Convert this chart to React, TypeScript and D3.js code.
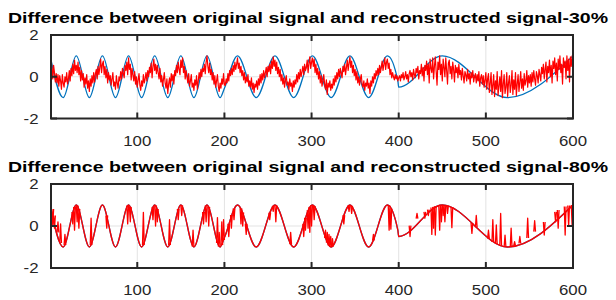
import React from "react";
import * as d3 from "d3";

const W = 616;
const H = 300;
const LEFT = 51;
const RIGHT = 573;

// original signal: peaks, troughs and segment joins
const origX = [0, 15, 30, 45, 60, 75, 90, 105, 120, 135, 150, 165, 180, 195, 200,
  215, 236.5, 258, 279.5, 301, 322.5, 344, 365.5, 387, 399, 400, 450, 525, 600];
const origY = [1, -1, 1, -1, 1, -1, 1, -1, 1, -1, 1, -1, 1, -1, -0.55,
  1, -1, 1, -1, 1, -1, 1, -1, 1, -0.2, -0.5, 1, -1, 1];

// 30% reconstruction, one value per sample (x = 1..600)
const red30 = [
  0.9, 0.4, -0.1, 0.55, 0.2, -0.25, 0.15, -0.3, 0.1, -0.45, 0.05, -0.2, -0.6, 0.1, -0.3, -0.5, 0, -0.25, 0.2, -0.35, -0.1, 0.3, -0.2, 0.4, 0.05, 0.6, 0.15, 0.8, 0.3, 0.55,
  0.2, 0.7, 0.1, 0.45, -0.2, 0.3, -0.15, 0.15, -0.5, -0.05, -0.35, 0.1, -0.55, -0.2, -0.7, -0.1, -0.45, 0.05, -0.3, 0.2, -0.25, 0.15, 0.35, -0.1, 0.5, 0.1, 0.45, 0.85, 0.2, 0.6,
  0.75, 0.1, 0.5, -0.05, 0.35, -0.3, 0.2, -0.15, 0.05, -0.4, -0.1, 0.2, -0.45, -0.25, -0.6, 0.05, -0.3, -0.55, 0, -0.2, 0.25, -0.1, 0.4, 0.15, -0.05, 0.55, 0.3, 0.7, 0.1, 0.9,
  0.35, 0.6, -0.15, 0.4, 0.1, -0.2, 0.25, -0.35, 0, -0.5, -0.15, 0.15, -0.4, -0.65, -0.2, -0.45, 0.1, -0.3, -0.1, 0.2, -0.2, 0.3, 0, 0.45, 0.2, 0.65, -0.05, 0.5, 0.85, 0.3,
  0.6, 0.15, 0.55, 0.2, -0.1, 0.4, -0.25, 0.05, -0.45, -0.15, 0.2, -0.3, -0.55, -0.1, -0.8, -0.35, -0.05, -0.5, 0.15, -0.2, 0.1, -0.35, 0.3, 0.05, 0.55, 0.2, 0.7, 0.35, 0.1, 0.8,
  0.45, 0.9, 0.2, 0.5, -0.1, 0.3, 0, -0.3, 0.15, -0.45, -0.2, 0.1, -0.5, -0.3, -0.65, -0.15, -0.4, 0.05, -0.6, -0.2, 0.2, -0.1, 0.35, 0, 0.4, 0.25, 0.6, 0.15, 0.7, 1.0,
  0.5, 0.2, 0.65, 0.1, 0.35, -0.15, 0.2, -0.35, 0.05, -0.5, -0.2, 0.1, -0.45, -0.7, -0.3, -0.55, -0.1, -0.35, 0.15, -0.4,
  -0.4, -0.1, -0.3, 0.15, -0.2, 0.3, 0.05, 0.4, 0.1, 0.55, 0.25, 0.7, 0.35, 0.6,
  0.9, 0.4, 0.65, 0.2, 0.5, 0.05, 0.3, -0.15, 0.2, -0.3, 0, -0.25, 0.1, -0.45, -0.2, -0.5, -0.05, -0.6, -0.3, -0.75, -0.35, -0.5,
  -0.2, -0.6, -0.1, -0.4, 0.1, -0.3, 0.15, -0.15, 0.3, -0.05, 0.2, 0.45, 0, 0.5, 0.25, 0.6, 0.15, 0.75, 0.4, 0.95, 0.5, 0.8,
  0.3, 0.7, 0.15, 0.45, 0, 0.35, -0.2, 0.1, -0.35, -0.05, -0.5, -0.15, 0.05, -0.4, -0.25, -0.6, -0.1, -0.45, -0.3, -0.7, -0.2,
  -0.5, -0.15, -0.35, 0.1, -0.25, 0.2, -0.1, 0.35, 0, 0.25, 0.5, 0.1, 0.6, 0.3, 0.45, 0.8, 0.2, 0.65, 0.95, 0.4, 0.7, 0.9,
  0.5, 0.85, 0.2, 0.6, 0.1, 0.4, -0.1, 0.25, -0.3, 0.05, -0.45, -0.2, 0.1, -0.35, -0.6, -0.15, -0.85, -0.3, -0.5, -0.2, -0.65,
  -0.35, -0.55, -0.1, -0.4, 0.05, -0.25, 0.2, -0.1, 0.35, 0, 0.4, 0.15, -0.05, 0.5, 0.25, 0.6, 0.1, 0.45, 0.8, 0.3, 0.65, 0.95,
  0.45, 0.75, 0.2, 0.55, 0.05, 0.35, -0.15, 0.25, -0.3, 0, -0.4, -0.1, 0.1, -0.35, -0.5, -0.2, -0.65, -0.3, -0.45, -0.1, -0.55,
  -0.3, -0.8, -0.2, -0.45, 0, -0.3, 0.15, -0.1, 0.3, 0.05, 0.4, 0.1, 0.55, 0.2, 0.45, 0.75, 0.3, 0.6, 0.9, 0.35, 0.7, 0.85,
  0.4, 0.65, 0.1, 0.35, -0.05, 0.2, 0, -0.15, 0.1, -0.1, 0.05, -0.2, -0.05,
  0.05, -0.2, 0.1, -0.05, 0.2, -0.15, 0, 0.25, -0.1, 0.1, -0.25, 0.15, 0.3, 0, 0.2, -0.15, 0.35, 0.1, -0.05, 0.4, 0.2, 0.5, -0.1, 0.3, 0.15, 0.6, 0.05, 0.45, -0.2, 0.55,
  0.3, 0.75, 0.1, 0.6, -0.3, 0.85, 0.4, 0.2, 0.9, -0.1, 0.5, 0.95, 0.25, -0.4, 0.7, 0.35, 1.0, 0.1, 0.6, -0.2, 0.85, 0.45, 0, 0.9, 0.3, -0.35, 0.65, 0.8, 0.15, 0.5, -0.1, 0.7, 0.35, -0.25, 0.55, 0.2, 0.45, -0.05, 0.6, 0.1,
  0.3, -0.15, 0.4, 0.05, -0.3, 0.25, 0.1, -0.2, 0.35, -0.1, 0.15, -0.35, 0.2, -0.05, 0.3, -0.25, 0, 0.15, -0.3, 0.1, -0.2, 0.25, -0.45, -0.05, 0.1, -0.35, 0.05, -0.5, -0.15, 0.2,
  -0.6, -0.1, 0.15, -0.75, -0.3, 0.2, -0.85, -0.4, 0.1, -0.95, -0.2, -0.6, 0.25, -0.9, -0.45, 0, -0.7, 0.3, -1.0, -0.35, 0.1, -0.8, -0.5, 0.2, -0.95, -0.3, 0.05, -0.75, -0.4, 0.3,
  -0.85, -0.15, -0.6, 0.2, -0.9, -0.35, 0.1, -0.7, -0.25, 0.25, -0.55, -0.1, -0.65, 0.15, -0.4, -0.2, 0.3, -0.5, 0.05, -0.3,
  0.1, -0.45, 0.2, -0.25, 0.3, -0.1, -0.4, 0.25, 0.05, -0.3, 0.35, 0.1, -0.2, 0.45, 0.15, 0.6, -0.1, 0.35, 0.7, -0.25, 0.5, 0.2, 0.8, 0, 0.55,
  -0.3, 0.75, 0.4, 0.9, 0.1, 0.65, -0.2, 0.85, 0.35, 1.0, 0.2, 0.6, -0.35, 0.9, 0.45, 0.75, -0.1, 1.0, 0.3, 0.85, -0.25, 0.95, 0.5, 1.0, 0.2,
];

// 80% reconstruction: follows the original except for single-sample spikes
const spikeX = [3, 5, 9, 12, 17, 26, 28, 31, 33, 47, 65, 89, 92, 107, 118, 121, 123, 137, 147, 151,
  164, 176, 179, 182, 192, 194, 197, 199, 205, 208, 211, 219, 221, 225, 252, 256, 259, 276,
  291, 293, 296, 298, 300, 303, 316, 318, 320, 322, 324, 337, 343, 346, 371, 389, 391,
  413, 421, 430, 434, 438, 440, 442, 447, 449, 451, 453, 456, 461, 484, 489, 503, 508, 512,
  517, 522, 529, 533, 539, 548, 556, 567, 580, 583, 591, 595, 599];
const spikeBase = [0.81, 0.5, -0.31, -0.81, -0.91, 0.67, 0.91, 0.98, 0.81, -0.91, 0.5, 0.98, 0.91, -0.91, 0.91, 0.98, 0.81, -0.91, 0.81, 0.98,
  -0.98, 0.67, 0.98, 0.91, -0.81, -0.98, -0.91, -0.67, 0.11, 0.52, 0.83, 0.83, 0.64, 0.11, 0.64, 0.96, 0.99, -0.87,
  0.11, 0.39, 0.75, 0.91, 0.99, 0.96, -0.58, -0.79, -0.93, -1.0, -0.98, 0.52, 0.99, 0.96, -0.69, 0.96, 0.83,
  0.02, 0.35, 0.67, 0.78, 0.88, 0.91, 0.94, 0.99, 1.0, 1.0, 0.99, 0.97, 0.9, 0.15, -0.06, -0.6, -0.76, -0.86,
  -0.94, -0.99, -0.99, -0.94, -0.83, -0.57, -0.27, 0.19, 0.67, 0.76, 0.93, 0.98, 1.0];
const spikeTip = [0.05, -0.1, 0.2, 0.1, -0.4, 0.1, -0.2, 0.2, -0.1, 0.37, -0.1, 0.1, 0.2, 0.65, 0.3, 0, 0.2, 0.3, 0.3, 0.5,
  -0.2, 0.1, 0.2, 0, 0.4, -0.3, 0.2, 0.3, -0.5, -0.1, 0.3, 0.1, 0, -0.4, 0.3, 0.7, 0.2, -0.3,
  -0.5, -0.2, -0.1, -0.3, 0, 0.3, -0.2, -0.3, -0.4, -0.5, -0.6, 0.1, 0.7, 0.6, -0.4, -0.2, -0.15,
  -0.5, 0.6, 0.37, 0.5, -0.4, -0.1, -0.43, -0.2, 0.2, 0.5, 0.2, 0.6, -0.08, -0.35, 0.5, -0.2, 0.3, 0.05,
  0.6, -0.43, -0.1, -0.75, -0.5, 0.37, 0.25, -0.43, 0.2, -0.1, -0.43, 0, 0.05];

const xTicks = [100, 200, 300, 400, 500, 600];
const yTicks = [-2, 0, 2];

const BLUE = "#0072BD";
const RED = "#FF0000";
const AX = "#262626";
const FONT = "'Liberation Sans', Arial, Helvetica, sans-serif";

const x = d3.scaleLinear().domain([1, 600]).range([LEFT, RIGHT]);

type PanelProps = {
  id: string;
  title: string;
  titleY: number;
  top: number;
  bottom: number;
  kind: "noisy" | "spiky";
};

function Panel({ id, title, titleY, top, bottom, kind }: PanelProps) {
  const y = d3.scaleLinear().domain([-2, 2]).range([bottom, top]);
  const smooth = d3
    .line<number>()
    .x((_, i) => x(origX[i]))
    .y((d) => y(d))
    .curve(d3.curveMonotoneX);
  const raw = d3
    .line<number>()
    .x((_, i) => x(i + 1))
    .y((d) => y(d));
  const seg = d3.line<[number, number]>();
  const tick = 6;

  return (
    <g>
      <defs>
        <clipPath id={id}>
          <rect x={LEFT} y={top} width={RIGHT - LEFT} height={bottom - top} />
        </clipPath>
      </defs>
      <rect x={LEFT} y={top} width={RIGHT - LEFT} height={bottom - top} fill="#fff" />
      {/* grid */}
      {xTicks.map((t) => (
        <line key={"gx" + t} x1={x(t)} x2={x(t)} y1={top} y2={bottom} stroke="#e3e3e3" strokeWidth={1} />
      ))}
      {yTicks.map((t) => (
        <line key={"gy" + t} x1={LEFT} x2={RIGHT} y1={y(t)} y2={y(t)} stroke="#e3e3e3" strokeWidth={1} />
      ))}
      <g clipPath={`url(#${id})`}>
        <path d={smooth(origY) ?? ""} fill="none" stroke={BLUE} strokeWidth={1.3} />
        {kind === "noisy" ? (
          <path d={raw(red30) ?? ""} fill="none" stroke={RED} strokeWidth={1.2} strokeLinejoin="round" />
        ) : (
          <g>
            <path d={smooth(origY) ?? ""} fill="none" stroke={RED} strokeWidth={1.3} />
            {spikeX.map((sx, i) => (
              <path
                key={"s" + i}
                d={
                  seg([
                    [x(sx - 1), y(spikeBase[i])],
                    [x(sx), y(spikeTip[i])],
                    [x(sx + 1), y(spikeBase[i])],
                  ]) ?? ""
                }
                fill="none"
                stroke={RED}
                strokeWidth={1.3}
                strokeLinejoin="round"
              />
            ))}
          </g>
        )}
      </g>
      {/* ticks */}
      {xTicks.map((t) => (
        <g key={"tx" + t}>
          <line x1={x(t)} x2={x(t)} y1={bottom} y2={bottom - tick} stroke={AX} strokeWidth={2} />
          <line x1={x(t)} x2={x(t)} y1={top} y2={top + tick} stroke={AX} strokeWidth={2} />
          <text
            transform={`translate(${x(t)},${bottom + 27}) scale(1.2,1)`}
            textAnchor="middle"
            fontFamily={FONT}
            fontSize={14}
            fill={AX}
          >
            {t}
          </text>
        </g>
      ))}
      {yTicks.map((t) => (
        <g key={"ty" + t}>
          <line x1={LEFT} x2={LEFT + tick} y1={y(t)} y2={y(t)} stroke={AX} strokeWidth={2} />
          <line x1={RIGHT} x2={RIGHT - tick} y1={y(t)} y2={y(t)} stroke={AX} strokeWidth={2} />
          <text
            transform={`translate(38.5,${y(t) + 5}) scale(1.2,1)`}
            textAnchor="end"
            fontFamily={FONT}
            fontSize={14}
            fill={AX}
          >
            {t}
          </text>
        </g>
      ))}
      <rect x={LEFT} y={top} width={RIGHT - LEFT} height={bottom - top} fill="none" stroke={AX} strokeWidth={2} />
      <text
        x={8}
        y={titleY}
        textLength={600}
        lengthAdjust="spacingAndGlyphs"
        fontFamily={FONT}
        fontWeight="bold"
        fontSize={15}
        fill="#000"
      >
        {title}
      </text>
    </g>
  );
}

export default function App() {
  return (
    <svg
      width={W}
      height={H}
      viewBox={`0 0 ${W} ${H}`}
      style={{ position: "absolute", left: 0, top: 0, background: "#fff" }}
    >
      <rect width={W} height={H} fill="#fff" />
      <Panel
        id="c30"
        title="Difference between original signal and reconstructed signal-30%"
        titleY={22.7}
        top={35}
        bottom={118.5}
        kind="noisy"
      />
      <Panel
        id="c80"
        title="Difference between original signal and reconstructed signal-80%"
        titleY={171.5}
        top={184}
        bottom={268}
        kind="spiky"
      />
    </svg>
  );
}
